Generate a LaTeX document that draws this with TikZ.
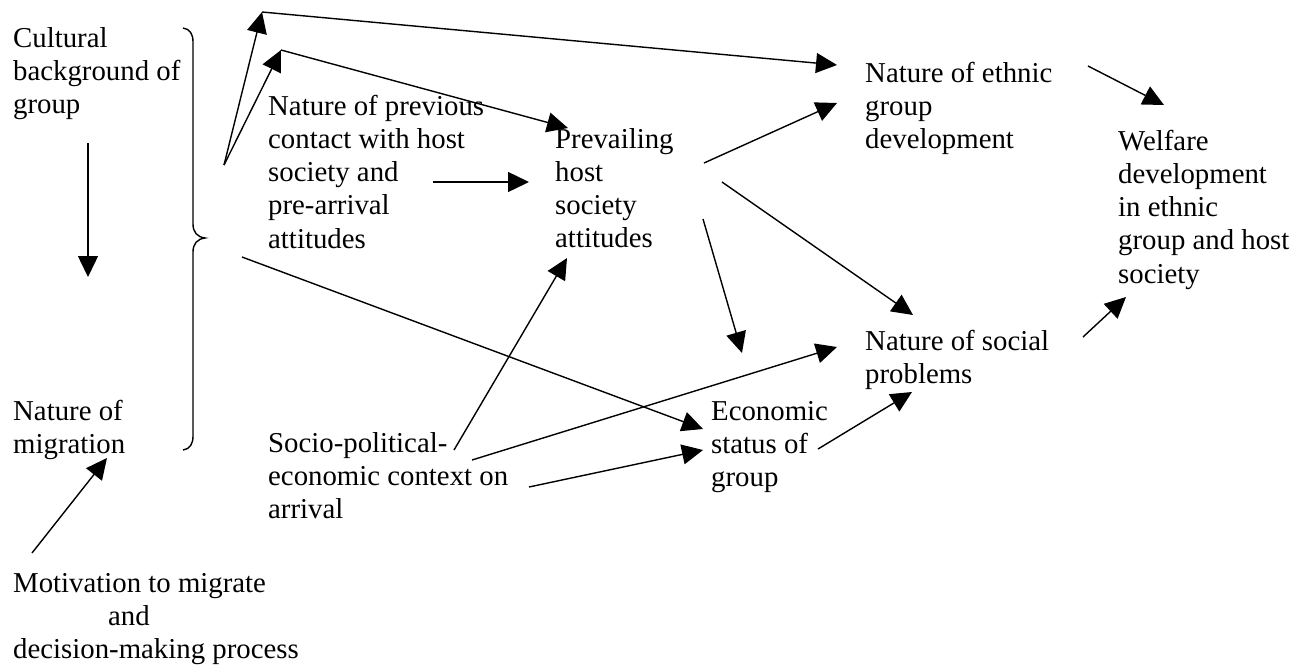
\documentclass[tikz,border=0pt]{standalone}
\usepackage{fontspec}
\setmainfont{Liberation Serif}
\usetikzlibrary{positioning,arrows.meta}

\newcommand{\txt}[1]{\begin{tabular}[t]{@{}l@{}}#1\end{tabular}}

\begin{document}
\begin{tikzpicture}[x=1pt,y=-1pt,
  lbl/.style={anchor=base west,inner sep=0pt,font=\fontsize{28.8}{33.3}\selectfont},
  arr/.style={-{Triangle[length=21pt,width=20pt]},line width=1.4pt}]
  \useasboundingbox (0,0) rectangle (1305,667);
  % left column
  \node[lbl] (cult) at (13,47) {\txt{Cultural\\background of\\group}};
  \node[lbl] (mig) at (13,420) {\txt{Nature of\\migration}};
  \node[lbl] (motiv) at (13,592) {\txt{Motivation to migrate\\\hspace*{95pt}and\\decision-making process}};
  % middle and right
  \node[lbl] (prev) at (268,115) {\txt{Nature of previous\\contact with host\\society and\\pre-arrival\\attitudes}};
  \node[lbl] (prevail) at (555,148) {\txt{Prevailing\\host\\society\\attitudes}};
  \node[lbl] (socio) at (268,452) {\txt{Socio-political-\\economic context on\\arrival}};
  \node[lbl] (econ) at (711,420) {\txt{Economic\\status of\\group}};
  \node[lbl] (ethnic) at (865,82) {\txt{Nature of ethnic\\group\\development}};
  \node[lbl] (social) at (865,350) {\txt{Nature of social\\problems}};
  \node[lbl] (welfare) at (1118,150) {\txt{Welfare\\development\\in ethnic\\group and host\\society}};
  % the brace
  \draw[line width=1.4pt] (183,28) .. controls (190,29) and (193,34) .. (193,42) -- (193,224)
    .. controls (193,232) and (197,237) .. (205,238) .. controls (197,239) and (193,244) .. (193,252)
    -- (193,436) .. controls (193,444) and (190,449) .. (183,450);
  \coordinate (fork) at (224,165);
  \coordinate (low) at (242,257);
  \coordinate (c1) at (262,12);
  \coordinate (c2) at (281,50);
  % arrows
  \draw[arr] ([shift={(75,96)}]cult.base west) -- ([shift={(75,-143)}]mig.base west);
  \draw[arr] ([shift={(19,-39)}]motiv.base west) -- ([shift={(94,38)}]mig.base west);
  \draw[arr] (fork) -- (c1);
  \draw[arr] (fork) -- (c2);
  \draw[arr] (c1) -- ([shift={(-28,-17)}]ethnic.base west);
  \draw[arr] (c2) -- ([shift={(13,-20)}]prevail.base west);
  \draw[arr] ([shift={(165,67)}]prev.base west) -- ([shift={(-26,34)}]prevail.base west);
  \draw[arr] (low) -- ([shift={(-8,9)}]econ.base west);
  \draw[arr] ([shift={(186,-2)}]socio.base west) -- ([shift={(12,110)}]prevail.base west);
  \draw[arr] ([shift={(204,8)}]socio.base west) -- ([shift={(-28,-3)}]social.base west);
  \draw[arr] ([shift={(261,35)}]socio.base west) -- ([shift={(-8,30)}]econ.base west);
  \draw[arr] ([shift={(149,15)}]prevail.base west) -- ([shift={(-28,21)}]ethnic.base west);
  \draw[arr] ([shift={(167,34)}]prevail.base west) -- ([shift={(48,-35)}]social.base west);
  \draw[arr] ([shift={(148,71)}]prevail.base west) -- ([shift={(31,-67)}]econ.base west);
  \draw[arr] ([shift={(223,-16)}]ethnic.base west) -- ([shift={(46,-45)}]welfare.base west);
  \draw[arr] ([shift={(218,-13)}]social.base west) -- ([shift={(8,147)}]welfare.base west);
  \draw[arr] ([shift={(107,29)}]econ.base west) -- ([shift={(47,42)}]social.base west);
\end{tikzpicture}
\end{document}
